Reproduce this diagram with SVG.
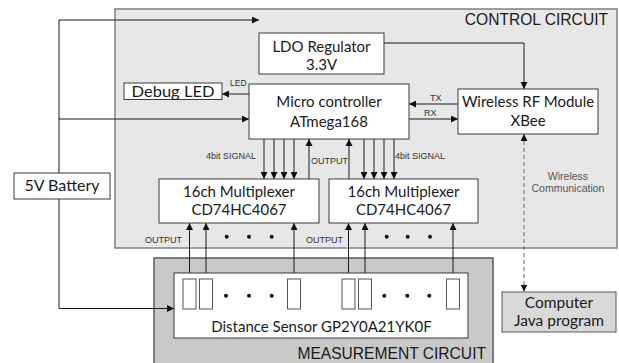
<svg xmlns="http://www.w3.org/2000/svg" width="619" height="363" viewBox="0 0 619 363">
<style>
.box{fill:#fff;stroke:#3a3a3a;stroke-width:1}
.t{font-family:Lato,"Noto Sans",sans-serif;font-size:15px;fill:#1a1a1a;text-anchor:middle}
.big{font-size:16px}
.cap{font-family:"Liberation Sans",Arial,sans-serif;font-size:15.6px;fill:#1a1a1a;text-anchor:end}
.s{font-family:"Liberation Sans",Arial,sans-serif;font-size:9px;fill:#333}
.wc{font-size:10.5px;fill:#555;text-anchor:middle}
.ln{fill:none;stroke:#1a1a1a;stroke-width:1}
.ar{marker-end:url(#ah)}
.dot{fill:#111}
</style>
<defs>
<marker id="ah" viewBox="0 0 8 8" refX="8" refY="4" markerWidth="7" markerHeight="7" markerUnits="userSpaceOnUse" orient="auto-start-reverse">
<path d="M0,0 L8,4 L0,8 z" fill="#111"/>
</marker>
</defs>
<g id="control-circuit">
<rect x="115" y="9" width="502" height="239" fill="#e7e7e7" stroke="#808080" stroke-width="1.5"/>
<text class="cap" x="608" y="25">CONTROL CIRCUIT</text>
</g>
<g id="measurement-circuit">
<rect x="154" y="258" width="339" height="110" fill="#c9c9c9" stroke="#595959" stroke-width="1.5"/>
<text class="cap" x="486" y="359">MEASUREMENT CIRCUIT</text>
</g>
<g id="connectors">
<path class="ln ar" d="M59,20 H259"/>
<path class="ln" d="M59,20 V308.5"/>
<path class="ln ar" d="M59,119 H249"/>
<path class="ln ar" d="M59,308.5 H174"/>
<path class="ln ar" d="M384,43 H524 V89"/>
<path class="ln ar" d="M249,94 H222"/>
<path class="ln ar" d="M458,104 H409"/>
<path class="ln ar" d="M409,119 H458"/>
<path class="ln ar" d="M264,139 V179"/>
<path class="ln ar" d="M274,139 V179"/>
<path class="ln ar" d="M284,139 V179"/>
<path class="ln ar" d="M294,139 V179"/>
<path class="ln ar" d="M364,139 V179"/>
<path class="ln ar" d="M374,139 V179"/>
<path class="ln ar" d="M384,139 V179"/>
<path class="ln ar" d="M394,139 V179"/>
<path class="ln ar" d="M309,179 V139"/>
<path class="ln ar" d="M349,179 V139"/>
<path class="ln ar" d="M189.5,279 V223"/>
<path class="ln ar" d="M206,279 V223"/>
<path class="ln ar" d="M294,279 V223"/>
<path class="ln ar" d="M348.5,279 V223"/>
<path class="ln ar" d="M365,279 V223"/>
<path class="ln ar" d="M453,279 V223"/>
<path d="M524,134 V291.5" fill="none" stroke="#666" stroke-width="1" stroke-dasharray="4,3" marker-start="url(#ah)" marker-end="url(#ah)"/>
<circle class="dot" cx="226.7" cy="236.7" r="2"/>
<circle class="dot" cx="249" cy="236.7" r="2"/>
<circle class="dot" cx="271.7" cy="236.7" r="2"/>
<circle class="dot" cx="386.7" cy="236.7" r="2"/>
<circle class="dot" cx="407.7" cy="236.7" r="2"/>
<circle class="dot" cx="430" cy="236.7" r="2"/>
<text class="s" x="230" y="86" style="font-size:8.5px">LED</text>
<text class="s" x="430" y="101">TX</text>
<text class="s" x="424" y="116">RX</text>
<text class="s" x="206" y="159">4bit SIGNAL</text>
<text class="s" x="395" y="159">4bit SIGNAL</text>
<text class="s" x="311" y="164">OUTPUT</text>
<text class="s" x="145" y="243">OUTPUT</text>
<text class="s" x="306" y="243">OUTPUT</text>
<text class="s wc" x="568" y="180">Wireless</text>
<text class="s wc" x="568" y="192">Communication</text>
</g>
<g id="battery">
<rect class="box" x="14" y="173" width="96" height="26"/>
<text class="t big" x="62" y="190.5">5V Battery</text>
</g>
<g id="ldo">
<rect class="box" x="259" y="33" width="125" height="41"/>
<text class="t" x="321.5" y="52">LDO Regulator</text>
<text class="t" x="321.5" y="70">3.3V</text>
</g>
<g id="debug-led">
<rect class="box" x="124" y="83" width="98" height="16.5"/>
<text class="t big" x="173" y="96.5" textLength="83" lengthAdjust="spacingAndGlyphs">Debug LED</text>
</g>
<g id="micro">
<rect class="box" x="249" y="84" width="160" height="55"/>
<text class="t" x="329" y="107">Micro controller</text>
<text class="t" x="329" y="127">ATmega168</text>
</g>
<g id="rf">
<rect class="box" x="458" y="89" width="140" height="45"/>
<text class="t" x="528" y="106.5">Wireless RF Module</text>
<text class="t" x="528" y="125.5">XBee</text>
</g>
<g id="mux1">
<rect class="box" x="159" y="179" width="160" height="44"/>
<text class="t" x="239" y="196.5">16ch Multiplexer</text>
<text class="t" x="239" y="215">CD74HC4067</text>
</g>
<g id="mux2">
<rect class="box" x="329" y="179" width="149" height="44"/>
<text class="t" x="403.5" y="196.5">16ch Multiplexer</text>
<text class="t" x="403.5" y="215">CD74HC4067</text>
</g>
<g id="sensor">
<rect class="box" x="174" y="273" width="294" height="65"/>
<rect class="box" x="183" y="279" width="13" height="30" style="stroke:#555"/>
<rect class="box" x="199.5" y="279" width="13" height="30" style="stroke:#555"/>
<rect class="box" x="287.5" y="279" width="13" height="30" style="stroke:#555"/>
<rect class="box" x="342" y="279" width="13" height="30" style="stroke:#555"/>
<rect class="box" x="358.5" y="279" width="13" height="30" style="stroke:#555"/>
<rect class="box" x="446.5" y="279" width="13" height="30" style="stroke:#555"/>
<circle class="dot" cx="226" cy="295.7" r="2"/>
<circle class="dot" cx="249" cy="295.7" r="2"/>
<circle class="dot" cx="271.7" cy="295.7" r="2"/>
<circle class="dot" cx="384.3" cy="295.7" r="2"/>
<circle class="dot" cx="407.3" cy="295.7" r="2"/>
<circle class="dot" cx="429.3" cy="295.7" r="2"/>
<text class="t" x="321.5" y="331.5">Distance Sensor GP2Y0A21YK0F</text>
</g>
<g id="computer">
<rect x="502" y="292" width="114" height="40" fill="#d9d9d9" stroke="#595959" stroke-width="1"/>
<text class="t" x="559" y="308" style="font-size:15.5px">Computer</text>
<text class="t" x="559" y="326" style="font-size:15.5px">Java program</text>
</g>
</svg>
